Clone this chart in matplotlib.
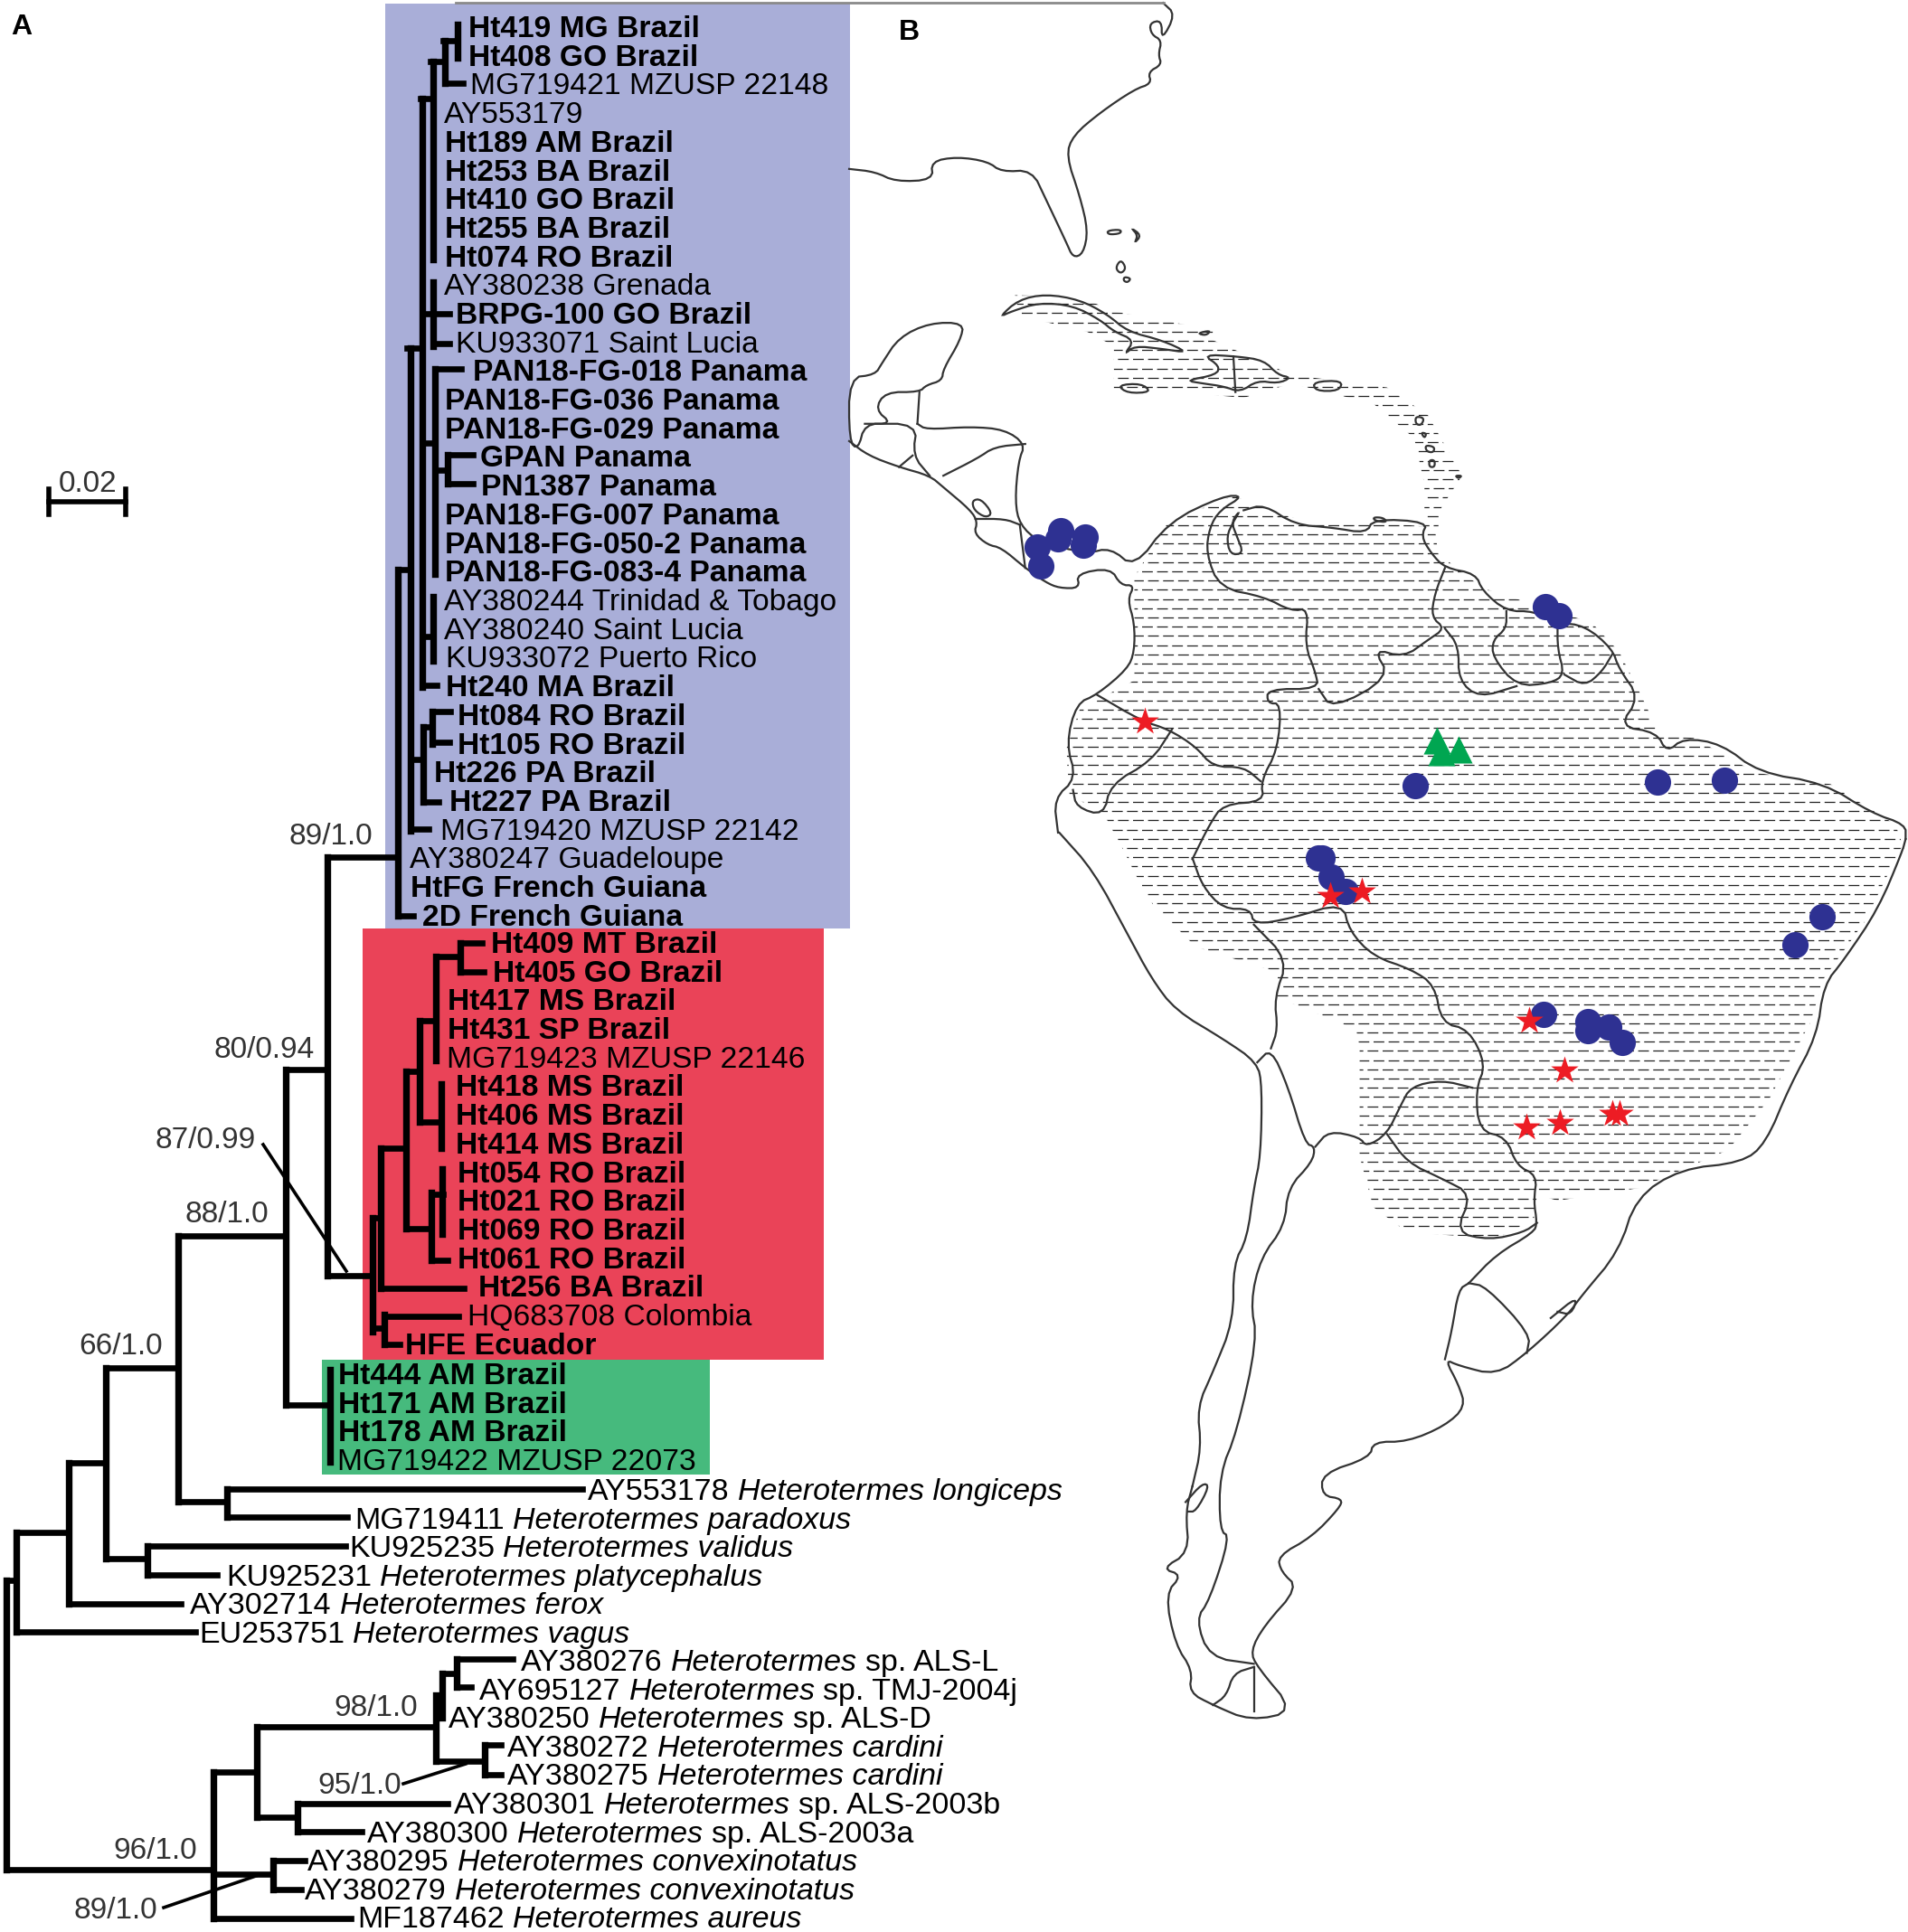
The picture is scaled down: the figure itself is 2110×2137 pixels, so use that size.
import numpy as np
import matplotlib
matplotlib.use("Agg")
import matplotlib.pyplot as plt
from matplotlib.patches import PathPatch, Polygon, Rectangle
from matplotlib.path import Path

plt.rcParams['font.family'] = ['Liberation Sans', 'DejaVu Sans']

# tip labels, top to bottom; r = regular weight, b = bold
blue_tips = [("Ht419 MG Brazil", "b", 518), ("Ht408 GO Brazil", "b", 518), ("MG719421 MZUSP 22148", "r", 520),
             ("AY553179", "r", 491), ("Ht189 AM Brazil", "b", 492), ("Ht253 BA Brazil", "b", 492),
             ("Ht410 GO Brazil", "b", 492), ("Ht255 BA Brazil", "b", 492), ("Ht074 RO Brazil", "b", 492),
             ("AY380238 Grenada", "r", 491), ("BRPG-100 GO Brazil", "b", 504), ("KU933071 Saint Lucia", "r", 504),
             ("PAN18-FG-018 Panama", "b", 523), ("PAN18-FG-036 Panama", "b", 492), ("PAN18-FG-029 Panama", "b", 492),
             ("GPAN Panama", "b", 531), ("PN1387 Panama", "b", 532), ("PAN18-FG-007 Panama", "b", 492),
             ("PAN18-FG-050-2 Panama", "b", 492), ("PAN18-FG-083-4 Panama", "b", 492),
             ("AY380244 Trinidad & Tobago", "r", 491), ("AY380240 Saint Lucia", "r", 491),
             ("KU933072 Puerto Rico", "r", 493), ("Ht240 MA Brazil", "b", 493), ("Ht084 RO Brazil", "b", 506),
             ("Ht105 RO Brazil", "b", 506), ("Ht226 PA Brazil", "b", 480), ("Ht227 PA Brazil", "b", 497),
             ("MG719420 MZUSP 22142", "r", 487), ("AY380247 Guadeloupe", "r", 453),
             ("HtFG French Guiana", "b", 454), ("2D French Guiana", "b", 467)]
red_tips = [("Ht409 MT Brazil", "b", 543), ("Ht405 GO Brazil", "b", 545), ("Ht417 MS Brazil", "b", 495),
            ("Ht431 SP Brazil", "b", 495), ("MG719423 MZUSP 22146", "r", 494), ("Ht418 MS Brazil", "b", 504),
            ("Ht406 MS Brazil", "b", 504), ("Ht414 MS Brazil", "b", 504), ("Ht054 RO Brazil", "b", 506),
            ("Ht021 RO Brazil", "b", 506), ("Ht069 RO Brazil", "b", 506), ("Ht061 RO Brazil", "b", 506),
            ("Ht256 BA Brazil", "b", 529), ("HQ683708 Colombia", "r", 517), ("HFE Ecuador", "b", 448)]
green_tips = [("Ht444 AM Brazil", "b", 374), ("Ht171 AM Brazil", "b", 374), ("Ht178 AM Brazil", "b", 374),
              ("MG719422 MZUSP 22073", "r", 373)]
# accession, italic name, trailing text, x
outgroup_tips = [("AY553178", "Heterotermes longiceps", "", 650), ("MG719411", "Heterotermes paradoxus", "", 392),
                 ("KU925235", "Heterotermes validus", "", 386), ("KU925231", "Heterotermes platycephalus", "", 250),
                 ("AY302714", "Heterotermes ferox", "", 210), ("EU253751", "Heterotermes vagus", "", 220),
                 ("AY380276", "Heterotermes", "sp. ALS-L", 576), ("AY695127", "Heterotermes", "sp. TMJ-2004j", 530),
                 ("AY380250", "Heterotermes", "sp. ALS-D", 496), ("AY380272", "Heterotermes cardini", "", 561),
                 ("AY380275", "Heterotermes cardini", "", 561), ("AY380301", "Heterotermes", "sp. ALS-2003b", 502),
                 ("AY380300", "Heterotermes", "sp. ALS-2003a", 406), ("AY380295", "Heterotermes convexinotatus", "", 340),
                 ("AY380279", "Heterotermes convexinotatus", "", 337), ("MF187462", "Heterotermes aureus", "", 395)]

# branches: horizontal (y, x0, x1), vertical (x, y0, y1)
h_branches = [(45, 490, 506), (92, 492, 512), (68, 476, 492), (109, 465, 479), (347, 467, 497), (380, 479, 497),
              (385, 450, 467), (917, 454, 474), (408, 481, 510), (490, 467, 481), (503, 495, 523), (535, 495, 523),
              (520, 481, 495), (704, 467, 479), (758, 467, 483), (787, 478, 498), (821, 478, 497), (804, 468, 478),
              (887, 468, 485), (840, 454, 468), (630, 440, 454), (1013, 440, 457), (948, 362, 440),
              (1411, 362, 410), (1270, 421, 447), (1425, 421, 513), (1347, 412, 421), (1185, 449, 464),
              (1129, 464, 482), (1058, 482, 509), (1043, 509, 533), (1075, 509, 535), (1241, 464, 488),
              (1359, 449, 477), (1394, 477, 495), (1321, 477, 490), (1469, 412, 425), (1456, 425, 507),
              (1487, 425, 442), (1554, 316, 365), (1183, 316, 362), (1367, 197, 316), (1661, 197, 251),
              (1647, 251, 644), (1678, 251, 384), (1513, 117, 197), (1724, 117, 163), (1710, 163, 382),
              (1742, 163, 240), (1618, 76, 117), (1774, 76, 200), (1695, 18, 76), (1805, 18, 216),
              (1748, 7, 18), (2068, 7, 236), (2122, 236, 388), (1960, 236, 284), (1910, 284, 482),
              (1851, 489, 505), (1835, 505, 567), (1866, 505, 521), (1948, 482, 536), (1930, 536, 554),
              (1963, 536, 554), (2010, 284, 329), (1995, 329, 495), (2026, 329, 400), (2073, 236, 302),
              (2058, 302, 337), (2090, 302, 333)]
v_branches = [(506, 27, 64), (492, 45, 92), (479, 68, 287), (467, 109, 760), (479, 312, 383), (454, 385, 919),
              (481, 408, 635), (495, 503, 535), (479, 660, 731), (468, 804, 887), (478, 787, 823), (440, 630, 1013),
              (362, 948, 1411), (412, 1347, 1473), (421, 1270, 1425), (449, 1185, 1359), (464, 1129, 1241),
              (482, 1058, 1173), (509, 1043, 1075), (488, 1199, 1270), (477, 1319, 1394), (489, 1293, 1365),
              (425, 1454, 1487), (365, 1515, 1617), (316, 1183, 1554), (197, 1367, 1661), (251, 1647, 1678),
              (117, 1513, 1724), (163, 1710, 1742), (76, 1618, 1774), (18, 1695, 1805), (7, 1748, 2068),
              (236, 1960, 2122), (284, 1910, 2010), (482, 1875, 1948), (489, 1851, 1900), (505, 1835, 1866),
              (536, 1930, 1963), (329, 1995, 2026), (302, 2058, 2090)]
# support labels: text, x centre, y centre
support_labels = [("89/1.0", 366, 925), ("80/0.94", 292, 1161), ("87/0.99", 227, 1262), ("88/1.0", 251, 1343),
                  ("66/1.0", 134, 1490), ("98/1.0", 416, 1889), ("95/1.0", 398, 1975), ("96/1.0", 172, 2048),
                  ("89/1.0", 128, 2114)]
leaders = [((291, 1266), (383, 1406)), ((446, 1973), (515, 1951)), ((181, 2110), (283, 2075))]

us_coast_n = [(12, 293), (50, 298), (80, 315), (135, 312), (132, 280), (170, 272), (215, 280), (235, 298), (280, 295),
              (300, 345), (330, 420), (340, 447), (355, 440), (362, 400), (350, 340), (330, 270), (340, 235), (380, 195),
              (430, 155), (455, 145), (450, 125), (470, 112), (465, 95), (470, 70), (455, 60), (452, 40), (470, 35),
              (470, 70), (490, 25), (472, 5)]
cuba_n = [(232, 550), (260, 520), (300, 510), (350, 520), (390, 545), (420, 575), (470, 590), (510, 612), (470, 605),
          (430, 600), (415, 615), (430, 590), (400, 575), (380, 555), (340, 530), (290, 525), (250, 540)]
jamaica_n = [(405, 668), (440, 665), (455, 680), (420, 682)]
hispaniola_n = [(530, 615), (580, 618), (620, 625), (640, 650), (660, 655), (640, 665), (610, 660), (585, 680),
                (560, 670), (530, 665), (505, 660), (550, 650), (555, 635)]
puerto_rico_n = [(692, 662), (735, 660), (730, 678), (695, 678)]
small_islands_n = [[(390, 400), (410, 398), (410, 405), (392, 407)], [(425, 395), (440, 408), (430, 422), (435, 408)],
                   [(410, 450), (418, 465), (410, 475), (402, 465)], [(415, 480), (425, 483), (420, 490), (414, 487)],
                   [(522, 578), (542, 573), (535, 582)], [(842, 722), (855, 725), (850, 738), (842, 735)],
                   [(850, 750), (858, 752), (855, 760)], [(856, 772), (870, 775), (868, 785), (858, 783)],
                   [(862, 798), (870, 798), (870, 810), (862, 810)], [(900, 825), (910, 825), (905, 830)],
                   [(780, 897), (795, 898), (800, 906), (782, 903)]]
nicaragua_lake_n = [(192, 868), (205, 865), (222, 890), (212, 898), (195, 885)]
maracaibo_n = [(585, 885), (572, 905), (580, 930), (590, 960), (570, 962), (565, 930), (575, 905)]
yucatan_n = [(12, 655), (50, 650), (60, 630), (85, 585), (130, 560), (180, 560), (175, 590), (150, 640), (148, 660),
             (125, 668), (115, 680), (65, 680), (50, 710), (75, 735), (35, 735), (25, 780), (12, 765)]
ca_pacific_n = [(12, 765), (40, 790), (85, 810), (130, 825), (150, 845), (190, 885), (200, 905), (195, 925), (215, 945),
                (235, 950), (270, 985), (300, 1010), (320, 1020), (350, 1020), (345, 995), (395, 985), (410, 1015),
                (430, 1015), (420, 1040), (430, 1080), (430, 1130), (420, 1160), (375, 1205), (345, 1220), (330, 1290),
                (345, 1350), (312, 1385), (318, 1444)]
ca_caribbean_n = [(112, 735), (125, 745), (190, 740), (240, 745), (270, 770), (260, 800), (255, 870), (262, 910),
                  (290, 940), (360, 960), (395, 950), (430, 985), (480, 905), (560, 860), (590, 860), (555, 885),
                  (540, 915), (535, 960), (555, 1020), (620, 1035), (660, 1060), (685, 1055), (680, 1120), (695, 1165),
                  (700, 1195), (625, 1195), (625, 1220), (645, 1220), (640, 1300), (615, 1355), (620, 1390), (560, 1395),
                  (540, 1430), (515, 1490)]
ca_borders_n = [[(115, 680), (112, 735)], [(35, 735), (112, 735), (105, 790), (130, 825)], [(85, 810), (105, 790)],
                [(150, 825), (200, 795), (225, 775), (270, 770)], [(197, 900), (240, 900), (262, 910)],
                [(270, 985), (262, 910)]]
venezuela_coast_n = [(590, 885), (620, 875), (665, 910), (720, 915), (770, 925), (780, 900), (860, 905), (850, 930),
                     (865, 960), (885, 985), (930, 995), (940, 1025), (975, 1060), (1015, 1060), (1050, 1080),
                     (1090, 1085), (1130, 1125), (1140, 1160), (1170, 1210), (1140, 1260), (1195, 1270), (1210, 1305),
                     (1235, 1280), (1290, 1290), (1345, 1340), (1440, 1358), (1510, 1410), (1560, 1430), (1560, 1455)]
ne_borders_n = [[(375, 1205), (440, 1250), (480, 1265), (520, 1295), (545, 1330), (590, 1330), (615, 1355)],
                [(485, 1265), (455, 1320), (395, 1360), (385, 1415), (345, 1400), (340, 1370)],
                [(885, 985), (870, 1030), (865, 1070), (885, 1090), (860, 1110), (825, 1140), (780, 1125), (805, 1175),
                 (720, 1230), (700, 1195)],
                [(885, 1090), (905, 1120), (905, 1180), (935, 1210), (990, 1190)],
                [(975, 1060), (975, 1090), (955, 1110), (955, 1140), (990, 1190), (1040, 1185), (1060, 1170),
                 (1050, 1125), (1050, 1080)],
                [(1060, 1170), (1090, 1190), (1115, 1165), (1130, 1135)]]
brazil_coast_s = [(1560, 40), (1555, 60), (1520, 150), (1470, 230), (1440, 270), (1430, 350), (1390, 430), (1355, 520),
                  (1320, 550), (1230, 560), (1165, 605), (1140, 690), (1085, 760), (1065, 790), (1005, 850), (960, 885),
                  (905, 870), (885, 860), (905, 900), (915, 935), (885, 965), (830, 990), (780, 990), (775, 1015),
                  (705, 1040), (705, 1075), (735, 1080), (730, 1095), (690, 1140), (640, 1170), (645, 1195), (670, 1220),
                  (620, 1280), (600, 1320), (610, 1345), (665, 1415), (600, 1430), (545, 1405), (510, 1385), (515, 1350),
                  (490, 1310), (475, 1230), (500, 1200), (470, 1190), (510, 1165), (505, 1100), (515, 1060)]
pacific_coast_s = [(320, 30), (370, 90), (420, 190), (455, 260), (490, 310), (560, 355), (610, 392), (617, 430),
                   (615, 540), (605, 590), (595, 670), (575, 710), (575, 800), (545, 880), (522, 935), (528, 1000),
                   (515, 1060)]
south_borders_s = [[(515, 70), (530, 115), (560, 150), (600, 150), (605, 175), (660, 165), (735, 140), (745, 185),
                    (780, 225), (835, 245), (870, 270), (880, 330), (920, 340), (945, 395), (930, 435), (935, 500),
                    (975, 510), (990, 555), (1020, 570), (1015, 610), (1020, 645), (1015, 660), (960, 695), (920, 740)],
                   [(610, 392), (630, 370), (655, 430), (680, 520), (695, 525), (690, 550), (655, 590), (650, 650),
                    (615, 700), (600, 770), (610, 830), (580, 975), (555, 1040), (555, 1130), (570, 1140), (540, 1240),
                    (520, 1270), (540, 1330), (605, 1340)],
                   [(630, 370), (640, 340), (635, 290), (655, 230), (605, 175)],
                   [(695, 525), (715, 500), (760, 510), (770, 525), (800, 505), (820, 460), (835, 430), (880, 420),
                    (925, 432)],
                   [(800, 505), (830, 550), (880, 575), (925, 600), (900, 660), (950, 672), (1000, 660), (1020, 645)],
                   [(920, 740), (945, 745), (1010, 820), (1005, 850)],
                   [(920, 740), (905, 750), (895, 815), (885, 860)],
                   [(1040, 795), (1080, 760), (1070, 790), (1050, 785)],
                   [(605, 1345), (575, 1355), (565, 1390), (545, 1405)], [(605, 1345), (605, 1415)],
                   [(505, 1085), (530, 1055), (540, 1060), (520, 1100), (508, 1100)]]
range_caribbean_n = [(255, 512), (350, 515), (400, 540), (545, 572), (545, 590), (660, 650), (800, 672), (860, 720),
                     (910, 825), (880, 880), (875, 915), (855, 915), (855, 840), (840, 760), (780, 700), (660, 665),
                     (590, 690), (500, 680), (400, 680), (400, 600), (360, 575), (262, 548)]
range_main_top_n = [(430, 1000), (480, 905), (575, 860), (620, 880), (680, 905), (780, 905), (870, 915), (875, 960),
                    (940, 1020), (1100, 1080), (1140, 1130), (1170, 1200), (1200, 1275), (1250, 1280), (1340, 1340),
                    (1450, 1360), (1545, 1430), (1560, 1480)]
range_main_bottom_s = [(1555, 50), (1500, 170), (1440, 260), (1420, 330), (1360, 450), (1300, 530), (1170, 590),
                       (1050, 610), (1020, 600), (1015, 640), (960, 670), (900, 665), (830, 660), (780, 620), (760, 540),
                       (760, 370), (755, 340), (640, 290), (640, 250), (520, 210), (450, 135), (415, 60), (385, 0)]
range_main_west_n = [(370, 1400), (335, 1380), (330, 1300), (350, 1230), (430, 1180), (430, 1050)]

# sampling sites
circles_n = [(322, 920), (318, 935), (288, 948), (293, 982), (358, 932), (355, 945), (1032, 1052), (1052, 1068),
             (842, 1362), (1196, 1356), (1295, 1353)]
circles_s = [(700, 70), (705, 70), (718, 100), (740, 122), (1437, 163), (1398, 206), (1030, 316), (1094, 328),
             (1094, 342), (1125, 337), (1145, 361)]
stars_n = [(445, 1252)]
stars_s = [(717, 130), (763, 122), (1008, 326), (1060, 404), (1005, 494), (1054, 487), (1130, 473), (1141, 473)]
triangles_n = [(873, 1284), (905, 1300), (880, 1305)]


def north(pts):
    a = np.array(pts, dtype=float)
    return np.column_stack([930 + a[:, 0] / 1.325, a[:, 1] / 1.568])


def south(pts):
    a = np.array(pts, dtype=float)
    return np.column_stack([930 + a[:, 0] / 1.325, 900 + a[:, 1] / 1.425])


def soften(xy, closed=False, rounds=2):
    # corner cutting so the coast does not look like straight segments
    for _ in range(rounds):
        if closed:
            nxt = np.roll(xy, -1, axis=0)
            xy = np.column_stack([0.75 * xy + 0.25 * nxt, 0.25 * xy + 0.75 * nxt]).reshape(-1, 2)
        else:
            mid = np.column_stack([0.75 * xy[:-1] + 0.25 * xy[1:], 0.25 * xy[:-1] + 0.75 * xy[1:]]).reshape(-1, 2)
            xy = np.vstack([xy[0], mid, xy[-1]])
    return xy


fig = plt.figure(figsize=(21.10, 21.37), dpi=100)
ax = fig.add_axes([0, 0, 1, 1])
ax.set_xlim(0, 2110)
ax.set_ylim(2137, 0)
ax.axis("off")

# clade boxes
ax.add_patch(Rectangle((426, 4), 514, 1023, fc="#A9AED8", ec="none", zorder=1))
ax.add_patch(Rectangle((401, 1027), 510, 477, fc="#EA4358", ec="none", zorder=1))
ax.add_patch(Rectangle((356, 1504), 429, 127, fc="#46BA7D", ec="none", zorder=1))

# hatched range
regions = [north(range_caribbean_n),
           np.vstack([north(range_main_top_n), south(range_main_bottom_s), north(range_main_west_n)])]
rows = np.arange(326, 1470, 10.2)
for poly in regions:
    clip = PathPatch(Path(np.vstack([poly, poly[0]])), fc="none", ec="none", zorder=2)
    ax.add_patch(clip)
    for rr, off in ((rows[::2], 0), (rows[1::2], 8)):
        hl = ax.hlines(rr, 930, 2110, colors="#222222", lw=0.9, linestyles=[(off, (9.5, 3.8))], zorder=2)
        hl.set_clip_path(clip)

# map outlines
map_style = dict(color="#333333", lw=1.6, solid_joinstyle="round", zorder=3)
for line in [us_coast_n, ca_pacific_n, ca_caribbean_n, venezuela_coast_n] + ca_borders_n + ne_borders_n:
    xy = soften(north(line))
    ax.plot(xy[:, 0], xy[:, 1], **map_style)
for line in [brazil_coast_s, pacific_coast_s] + south_borders_s:
    xy = soften(south(line))
    ax.plot(xy[:, 0], xy[:, 1], **map_style)
for isl in [cuba_n, jamaica_n, hispaniola_n, puerto_rico_n, nicaragua_lake_n, maracaibo_n, yucatan_n] + small_islands_n:
    ax.add_patch(Polygon(soften(north(isl), closed=True), closed=True, fc="none", ec="#333333", lw=1.6, zorder=3))
xy = north([(575, 618), (578, 680)])
ax.plot(xy[:, 0], xy[:, 1], **map_style)
ax.plot([504, 1287], [3, 3], color="#8a8a8a", lw=2, zorder=3)

# sites
c = np.vstack([north(circles_n), south(circles_s)])
ax.scatter(c[:, 0], c[:, 1], s=440, c="#2E3192", marker="o", linewidths=0, zorder=4)
t = north(triangles_n)
ax.scatter(t[:, 0], t[:, 1], s=470, c="#00A651", marker="^", linewidths=0, zorder=5)
s = np.vstack([north(stars_n), south(stars_s)])
ax.scatter(s[:, 0], s[:, 1], s=530, c="#ED1C24", marker="*", linewidths=0, zorder=6)

# tree
for y, x0, x1 in h_branches:
    ax.plot([x0, x1], [y, y], color="black", lw=4.8, solid_capstyle="projecting", zorder=7)
for x, y0, y1 in v_branches:
    ax.plot([x, x], [y0, y1], color="black", lw=5.3, solid_capstyle="projecting", zorder=7)
for p0, p1 in leaders:
    ax.plot([p0[0], p1[0]], [p0[1], p1[1]], color="black", lw=2.6, zorder=8)

# tip labels
fs_bold = 24.2
fs_reg = 24.2
fs_out = 24.5
baseline = 11
for tips, y0 in ((blue_tips, 30), (red_tips, 1043), (green_tips, 1520)):
    for i, (name, w, x) in enumerate(tips):
        if w == "b":
            ax.text(x, y0 + 31.7 * i + baseline, name, fontsize=fs_bold, va="baseline", fontweight="bold", zorder=9)
        else:
            ax.text(x, y0 + 31.7 * i + baseline, name, fontsize=fs_reg, va="baseline", zorder=9)

renderer = fig.canvas.get_renderer()
gap = 9
for i, (acc, ital, rest, x) in enumerate(outgroup_tips):
    y = 1648 + 31.55 * i + baseline
    t1 = ax.text(x, y, acc, fontsize=fs_out, va="baseline", zorder=9)
    x1 = t1.get_window_extent(renderer).x1 + gap
    t2 = ax.text(x1, y, ital, fontsize=fs_out, va="baseline", style="italic", zorder=9)
    if rest:
        ax.text(t2.get_window_extent(renderer).x1 + gap, y, rest, fontsize=fs_out, va="baseline", zorder=9)

for label, x, y in support_labels:
    ax.text(x, y, label, fontsize=24, color="#333333", ha="center", va="center", zorder=9)

# scale bar
ax.plot([54, 139], [555, 555], color="black", lw=4, zorder=7)
ax.plot([54, 54], [541, 569], color="black", lw=4, zorder=7)
ax.plot([139, 139], [541, 569], color="black", lw=4, zorder=7)
ax.text(97, 535, "0.02", fontsize=24, color="#333333", ha="center", va="center")

ax.text(12, 38, "A", fontsize=23, fontweight="bold")
ax.text(994, 44, "B", fontsize=23, fontweight="bold", zorder=9)

fig.savefig("out.png", dpi=100)
